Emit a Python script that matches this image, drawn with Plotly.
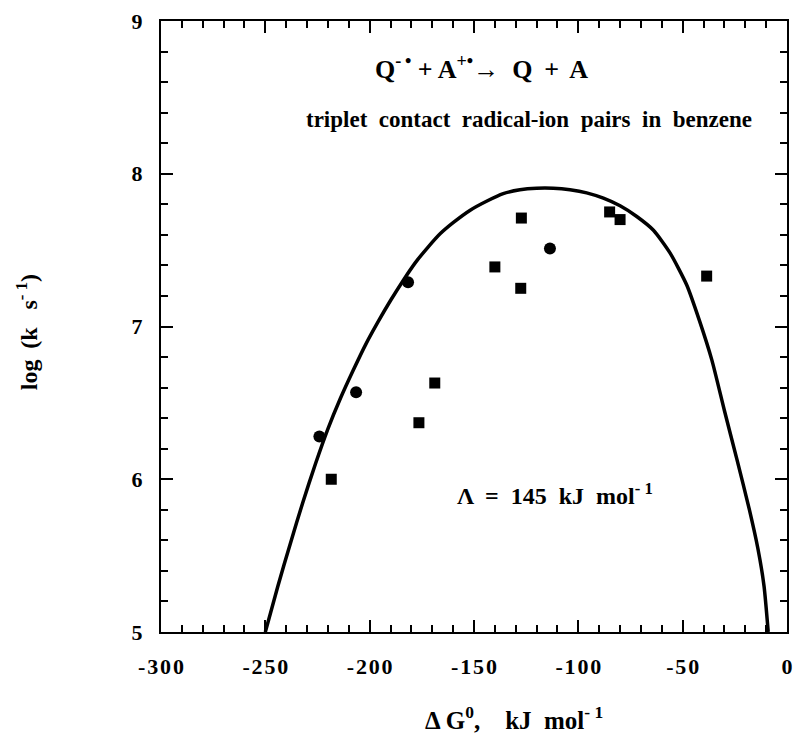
import plotly.graph_objects as go

# Data
curve_x = [-250, -244, -238, -232, -226, -220, -214, -208, -202, -196, -190, -184,
           -178, -172, -166, -160, -152, -144, -136, -128, -120, -112, -104, -96,
           -88, -80, -72, -64, -56, -48, -42, -36, -30, -24, -18, -14, -11, -9]
curve_y = [5.00, 5.30, 5.58, 5.85, 6.10, 6.33, 6.53, 6.71, 6.88, 7.03, 7.17, 7.30,
           7.42, 7.52, 7.61, 7.68, 7.76, 7.82, 7.87, 7.895, 7.905, 7.905, 7.895, 7.875,
           7.84, 7.79, 7.72, 7.63, 7.48, 7.27, 7.04, 6.78, 6.45, 6.13, 5.80, 5.55, 5.30, 5.00]

circle_x = [-224.1, -206.5, -181.6, -113.6]
circle_y = [6.28, 6.57, 7.29, 7.51]

square_x = [-218.4, -176.4, -168.8, -140.0, -127.3, -127.6, -85.0, -80.0, -38.5]
square_y = [6.00, 6.37, 6.63, 7.39, 7.71, 7.25, 7.75, 7.70, 7.33]

x_ticks = [-300, -250, -200, -150, -100, -50, 0]
y_ticks = [5, 6, 7, 8, 9]

FONT = "Liberation Serif"
HS = "\u200a"  # hair space used for slight letter spacing of tick labels


def spaced(s):
    return HS.join(list(s))


fig = go.Figure()
fig.add_trace(go.Scatter(x=curve_x, y=curve_y, mode="lines",
                         line=dict(color="black", width=3.5, shape="spline", smoothing=0.6),
                         hoverinfo="skip", showlegend=False))
fig.add_trace(go.Scatter(x=square_x, y=square_y, mode="markers",
                         marker=dict(symbol="square", size=11, color="black"),
                         showlegend=False))
fig.add_trace(go.Scatter(x=circle_x, y=circle_y, mode="markers",
                         marker=dict(symbol="circle", size=12, color="black"),
                         showlegend=False))

axis_common = dict(showline=True, linecolor="black", linewidth=2, mirror="allticks",
                   ticks="inside", tickcolor="black", tickwidth=2, showgrid=False,
                   zeroline=False,
                   tickfont=dict(family=FONT, size=22, color="black", weight="bold"))

fig.update_xaxes(range=[-300, 0], tickvals=x_ticks, ticktext=[spaced(str(v)) for v in x_ticks],
                 ticklen=12, ticklabelstandoff=14,
                 minor=dict(dtick=10, ticklen=7, ticks="inside", tickcolor="black", tickwidth=2),
                 **axis_common)
fig.update_yaxes(range=[5, 9], tickvals=y_ticks, ticktext=[str(v) for v in y_ticks],
                 ticklen=12, ticklabelstandoff=12,
                 minor=dict(dtick=0.2, ticklen=7, ticks="inside", tickcolor="black", tickwidth=2),
                 **axis_common)

W, H = 797, 745
L, R, T, B = 161, 4, 21, 113
pw, ph = W - L - R, H - T - B


def px(xp):
    return (xp - L) / pw


def py(yp):
    return (H - B - yp) / ph


def font(sz):
    return dict(family=FONT, size=sz, color="black", weight="bold")


annotations = [
    dict(x=px(485), y=py(68), xref="paper", yref="paper",
         text="Q<sup>-\u2009\u2022</sup> + A<sup>+\u2022</sup>\u2192\u00a0 Q\u2009 +\u2009 A",
         showarrow=False, font=font(26), xanchor="center", yanchor="middle"),
    dict(x=px(533), y=py(120), xref="paper", yref="paper",
         text="triplet\u00a0 contact\u00a0 radical-ion\u00a0 pairs\u00a0 in\u00a0 benzene",
         showarrow=False, font=font(23), xanchor="center", yanchor="middle"),
    dict(x=px(458), y=py(494), xref="paper", yref="paper",
         text="\u039b\u2009 = \u00a0145\u00a0 kJ\u00a0 mol<sup>- 1</sup>",
         showarrow=False, font=font(24), xanchor="left", yanchor="middle"),
    dict(x=px(517), y=py(718), xref="paper", yref="paper",
         text="\u0394\u2009G<sup>0</sup>,\u00a0\u00a0\u00a0 kJ\u00a0 mol<sup>- 1</sup>",
         showarrow=False, font=font(25), xanchor="center", yanchor="middle"),
    dict(x=px(26), y=py(332), xref="paper", yref="paper",
         text="log\u2009 (k\u00a0\u00a0 s<sup>- 1</sup>)", textangle=-90,
         showarrow=False, font=font(24), xanchor="center", yanchor="middle"),
]

fig.update_layout(width=W, height=H, margin=dict(l=L, r=R, t=T, b=B),
                  plot_bgcolor="white", paper_bgcolor="white",
                  annotations=annotations, showlegend=False)

fig.write_html("out.html")
